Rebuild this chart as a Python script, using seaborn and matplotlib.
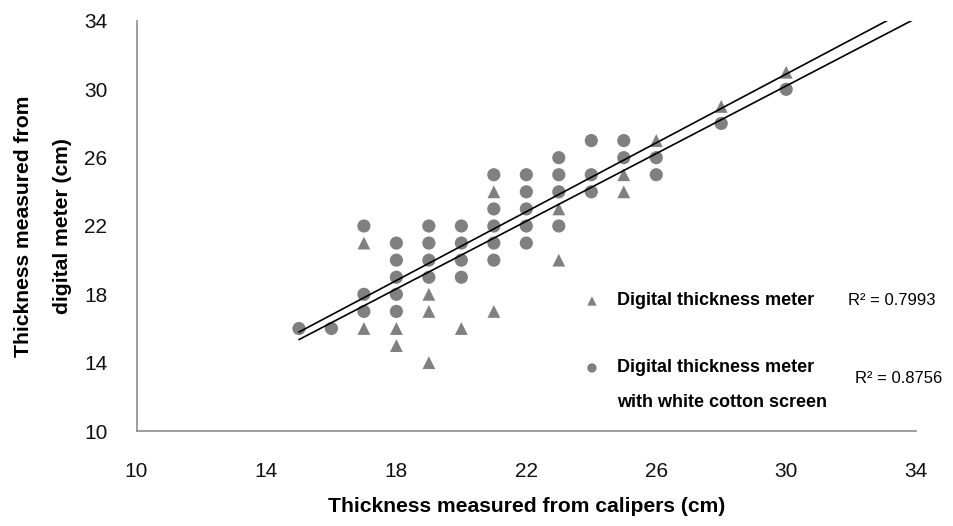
import numpy as np
import pandas as pd
import matplotlib
matplotlib.use("Agg")
import matplotlib.pyplot as plt
import seaborn as sns

# ---- data ----
tri_x = [17, 17, 18, 18, 19, 19, 19, 20, 21, 21, 23, 23, 25, 25, 26, 28, 30]
tri_y = [21, 16, 16, 15, 18, 17, 14, 16, 24, 17, 23, 20, 25, 24, 27, 29, 31]

cir_x = [15, 16, 17, 17, 17, 18, 18, 18, 18, 18, 19, 19, 19, 19,
         20, 20, 20, 20, 21, 21, 21, 21, 21, 22, 22, 22, 22, 22,
         23, 23, 23, 23, 24, 24, 24, 25, 25, 26, 26, 28, 30]
cir_y = [16, 16, 22, 18, 17, 21, 20, 19, 18, 17, 22, 21, 20, 19,
         22, 21, 20, 19, 25, 23, 22, 21, 20, 25, 24, 23, 22, 21,
         26, 25, 24, 22, 27, 25, 24, 27, 26, 26, 25, 28, 30]

# linear trendlines (slope, intercept)
trend_slope = [1.007, 0.990]
trend_intercept = [0.685, 0.50]
trend_x_range = [15, 34]

series_names = ["Digital thickness meter",
                "Digital thickness meter\nwith white cotton screen"]
r2_labels = ["R² = 0.7993", "R² = 0.8756"]
ticks = [10, 14, 18, 22, 26, 30, 34]
x_label = "Thickness measured from calipers (cm)"
y_label = "Thickness measured from\ndigital meter (cm)"

df_tri = pd.DataFrame({"x": tri_x, "y": tri_y})
df_cir = pd.DataFrame({"x": cir_x, "y": cir_y})

sns.set_theme(style="white")
plt.rcParams["font.family"] = ["Liberation Sans", "DejaVu Sans"]
plt.rcParams["text.color"] = "black"
plt.rcParams["axes.labelcolor"] = "black"

fig = plt.figure(figsize=(9.54, 5.26), dpi=100)
ax = fig.add_axes([0.1431, 0.1806, 0.8172, 0.7795])

grey = "#808080"
sns.scatterplot(data=df_tri, x="x", y="y", marker="^", s=85, color=grey,
                edgecolor="none", ax=ax, zorder=3)
sns.scatterplot(data=df_cir, x="x", y="y", marker="o", s=90, color=grey,
                edgecolor="none", ax=ax, zorder=3)

xs = np.array(trend_x_range, dtype=float)
for k, b in zip(trend_slope, trend_intercept):
    ax.plot(xs, k * xs + b, color="black", lw=1.2, zorder=4)

ax.set_xlim(10, 34)
ax.set_ylim(10, 34)
ax.set_xticks(ticks)
ax.set_yticks(ticks)
ax.tick_params(axis="x", labelsize=15, pad=22, length=0, labelcolor="#111111")
ax.tick_params(axis="y", labelsize=15, pad=21, length=0, labelcolor="#111111")

for s in ["top", "right"]:
    ax.spines[s].set_visible(False)
for s in ["left", "bottom"]:
    ax.spines[s].set_color("#8c8c8c")
    ax.spines[s].set_linewidth(1.2)

ax.set_xlabel(x_label, fontsize=15.2, fontweight="bold", color="black")
ax.xaxis.set_label_coords(0.5, -0.16)
ax.set_ylabel(y_label, fontsize=15.2, fontweight="bold", linespacing=2.35,
              color="black")
ax.yaxis.label.set_va("center")
ax.yaxis.set_label_coords(-0.1200, 0.5)

# legend (manual layout matching the reference)
ax.scatter([24.02], [17.61], marker="^", s=45, color=grey, edgecolor="none",
           clip_on=False)
ax.scatter([24.02], [13.69], marker="o", s=45, color=grey, edgecolor="none",
           clip_on=False)
ax.text(24.79, 17.61, series_names[0], fontsize=13, fontweight="bold",
        va="center", ha="left", color="black")
lines = series_names[1].split("\n")
ax.text(24.79, 13.69, lines[0], fontsize=13, fontweight="bold",
        va="center", ha="left", color="black")
ax.text(24.79, 11.64, lines[1], fontsize=13, fontweight="bold",
        va="center", ha="left", color="black")
ax.text(31.91, 17.61, r2_labels[0], fontsize=12, va="center", ha="left",
        color="black")
ax.text(32.13, 13.10, r2_labels[1], fontsize=12, va="center", ha="left",
        color="black")

fig.savefig("out.png", dpi=100)
